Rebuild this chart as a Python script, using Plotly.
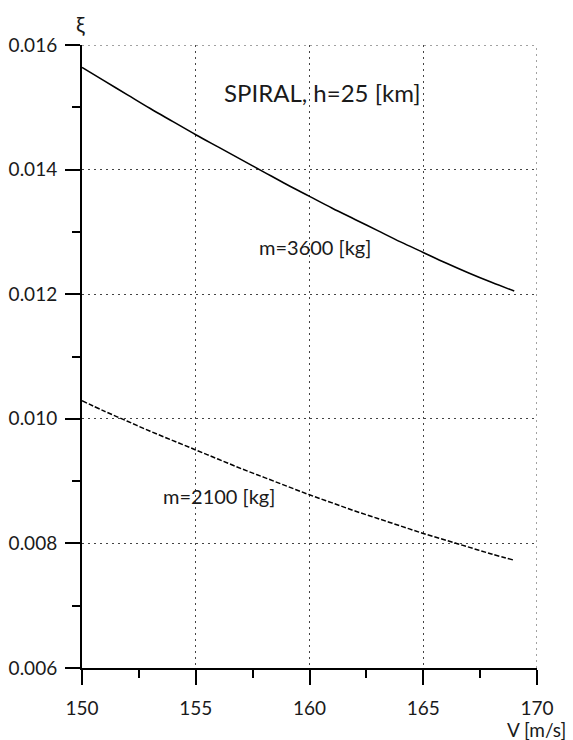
import plotly.graph_objects as go

# Data
V = [150, 151, 152, 153, 154, 155, 156, 157, 158, 159,
     160, 161, 162, 163, 164, 165, 166, 167, 168, 169]
xi_m3600 = [0.01564, 0.01542, 0.01520, 0.01498, 0.01477, 0.01456, 0.01436, 0.01416, 0.01396, 0.01376,
            0.01357, 0.01338, 0.01320, 0.01302, 0.01284, 0.01267, 0.01250, 0.01234, 0.01219, 0.01205]
xi_m2100 = [0.01029, 0.01012, 0.00996, 0.00980, 0.00965, 0.00950, 0.00935, 0.00920, 0.00906, 0.00892,
            0.00878, 0.00865, 0.00852, 0.00840, 0.00828, 0.00816, 0.00805, 0.00794, 0.00783, 0.00773]
x_ticks = [150, 155, 160, 165, 170]
y_ticks = [0.006, 0.008, 0.010, 0.012, 0.014, 0.016]

FONT = "Lato"
TXT = "#1a1a1a"

fig = go.Figure()
fig.add_trace(go.Scatter(x=V, y=xi_m3600, mode="lines",
                         line=dict(color="black", width=1.6, shape="spline"), showlegend=False))
fig.add_trace(go.Scatter(x=V, y=xi_m2100, mode="lines",
                         line=dict(color="black", width=1.5, dash="5px,2px", shape="spline"),
                         showlegend=False))

grid = dict(showgrid=True, gridcolor="#444444", gridwidth=1, griddash="2px,4px")

fig.update_xaxes(range=[150, 170], tickvals=x_ticks, ticktext=[str(v) for v in x_ticks],
                 showline=True, linecolor="black", linewidth=2, automargin=False,
                 ticks="outside", ticklen=15, tickwidth=2, tickcolor="black",
                 ticklabelstandoff=7,
                 tickfont=dict(family=FONT, size=19, color=TXT),
                 minor=dict(dtick=2.5, tick0=150, ticks="outside", ticklen=8, tickwidth=2,
                            tickcolor="black", showgrid=False),
                 zeroline=False, **grid)
fig.update_yaxes(range=[0.006, 0.016], tickvals=y_ticks, ticktext=[f"{v:.3f}" for v in y_ticks],
                 showline=True, linecolor="black", linewidth=2, automargin=False,
                 ticks="outside", ticklen=15, tickwidth=2, tickcolor="black",
                 ticklabelstandoff=4,
                 tickfont=dict(family=FONT, size=19, color=TXT),
                 minor=dict(dtick=0.001, tick0=0.006, ticks="outside", ticklen=8, tickwidth=2,
                            tickcolor="black", showgrid=False),
                 zeroline=False, **grid)

# top and right dotted grid lines (at the range edges)
fig.add_shape(type="line", xref="paper", yref="y", x0=0, x1=1, y0=0.016, y1=0.016,
              line=dict(color="#444444", width=1, dash="2px,4px"), layer="below")
fig.add_shape(type="line", xref="x", yref="paper", x0=170, x1=170, y0=0, y1=1,
              line=dict(color="#444444", width=1, dash="2px,4px"), layer="below")

annots = [
    dict(x=160.55, y=0.01524, xref="x", yref="y", text="SPIRAL, h=25 [km]",
         font=dict(family=FONT, size=24, color=TXT), showarrow=False),
    dict(x=160.24, y=0.01275, xref="x", yref="y", text="m=3600 [kg]",
         font=dict(family=FONT, size=20, color=TXT), showarrow=False),
    dict(x=156.04, y=0.00876, xref="x", yref="y", text="m=2100 [kg]",
         font=dict(family=FONT, size=20, color=TXT), showarrow=False),
    dict(x=-0.004, y=1.035, xref="paper", yref="paper", text="ξ",
         xanchor="center", yanchor="middle",
         font=dict(family=FONT, size=22, color=TXT), showarrow=False),
    dict(x=1.068, y=-0.0985, xref="paper", yref="paper", text="V [m/s]",
         xanchor="right", yanchor="middle",
         font=dict(family=FONT, size=19, color=TXT), showarrow=False),
]

fig.update_layout(width=573, height=740, margin=dict(l=82, r=36, t=45, b=72),
                  paper_bgcolor="white", plot_bgcolor="white",
                  annotations=annots, showlegend=False)

fig.write_html("out.html")
